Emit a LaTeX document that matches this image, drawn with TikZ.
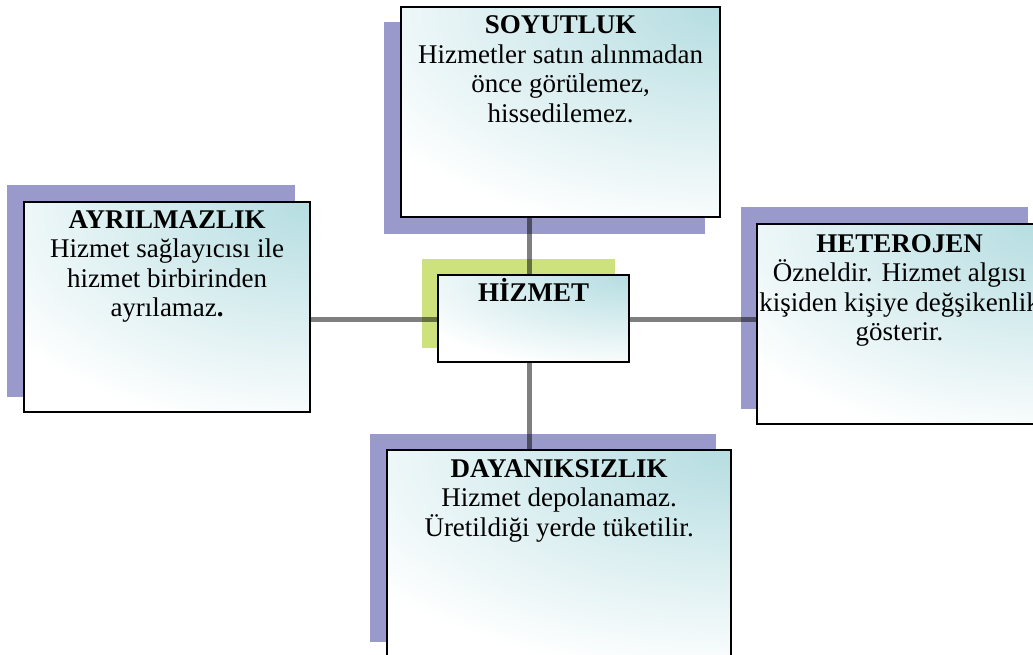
\documentclass[tikz,border=0pt]{standalone}
\usepackage{fontspec}
\setmainfont{Liberation Serif}
\usetikzlibrary{calc}
\definecolor{shpurple}{RGB}{153,153,204}
\definecolor{shgreen}{RGB}{205,226,125}
\definecolor{boxteal}{RGB}{181,221,225}
\pgfdeclarelayer{shadowlayer}
\pgfdeclarelayer{linelayer}
\pgfsetlayers{shadowlayer,linelayer,main}
\newcommand{\firstline}{\rule{0pt}{12pt}}
\tikzset{
  infobox/.style={rectangle, draw=black, line width=1.1pt, inner sep=0pt, anchor=north west,
    path picture={
      \fill[white] (path picture bounding box.south west) rectangle (path picture bounding box.north east);
      \path let \p1=(path picture bounding box.south west), \p2=(path picture bounding box.north east) in
        [shade, inner color=boxteal, outer color=white]
        (path picture bounding box.north east) ellipse [x radius={1.3*(\x2-\x1)}, y radius={1.1*(\y2-\y1)}];
    }},
  conn/.style={draw=black, draw opacity=0.5, line width=2.5pt},
  txt/.style={align=center, inner sep=0pt, anchor=north, font=\fontsize{13.5}{14.75}\selectfont},
}
\begin{document}
\begin{tikzpicture}[x=0.5pt, y=-0.5pt]
\useasboundingbox (0,0) rectangle (1033,654);
\clip (0,0) rectangle (1033,654);

% boxes
\node[infobox, minimum width=159.5pt, minimum height=105pt] (soy) at (400,6) {};
\node[infobox, minimum width=143pt, minimum height=105pt] (ayr) at (23,201) {};
\node[infobox, minimum width=95.5pt, minimum height=43.5pt] (hiz) at (437,274) {};
\node[infobox, minimum width=142.5pt, minimum height=100pt] (het) at (756,223) {};
\node[infobox, minimum width=172pt, minimum height=103pt] (day) at (386,449) {};

% shadows
\begin{pgfonlayer}{shadowlayer}
  \fill[shpurple] ([shift={(-16,16)}]soy.south west) rectangle ([shift={(-16,16)}]soy.north east);
  \fill[shpurple] ([shift={(-16,-16)}]ayr.south west) rectangle ([shift={(-16,-16)}]ayr.north east);
  \fill[shgreen]  ([shift={(-15,-15)}]hiz.south west) rectangle ([shift={(-15,-15)}]hiz.north east);
  \fill[shpurple] ([shift={(-15,-16)}]het.south west) rectangle ([shift={(-15,-16)}]het.north east);
  \fill[shpurple] ([shift={(-16,-15)}]day.south west) rectangle ([shift={(-16,-15)}]day.north east);
\end{pgfonlayer}

% connectors
\coordinate (hub) at (529,319);
\begin{pgfonlayer}{linelayer}
  \draw[conn] (hub |- soy.south) -- (hub |- day.north);
  \draw[conn] (hub -| ayr.east) -- (hub -| het.west);
\end{pgfonlayer}

% texts (first-line strut 12pt = 24px above the first baseline)
\node[txt] (soyt) at ($(soy.north)+(0,3.5)$) {\firstline\textbf{SOYUTLUK}\\Hizmetler satın alınmadan\\önce görülemez,\\hissedilemez.};
\node[txt] (ayrt) at ($(ayr.north)+(0,3)$) {\firstline\textbf{AYRILMAZLIK}\\Hizmet sağlayıcısı ile\\hizmet birbirinden\\ayrılamaz\textbf{.}};
\node[txt] (hizt) at ($(hiz.north)+(0,3)$) {\firstline\textbf{HİZMET}};
\node[txt] (hett) at ($(het.north)+(0,5)$) {\firstline\textbf{HETEROJEN}\\Özneldir. Hizmet algısı\\kişiden kişiye değşikenlik\\gösterir.};
\node[txt] (dayt) at ($(day.north)+(0,4)$) {\firstline\textbf{DAYANIKSIZLIK}\\Hizmet depolanamaz.\\Üretildiği yerde tüketilir.};
\end{tikzpicture}
\end{document}
